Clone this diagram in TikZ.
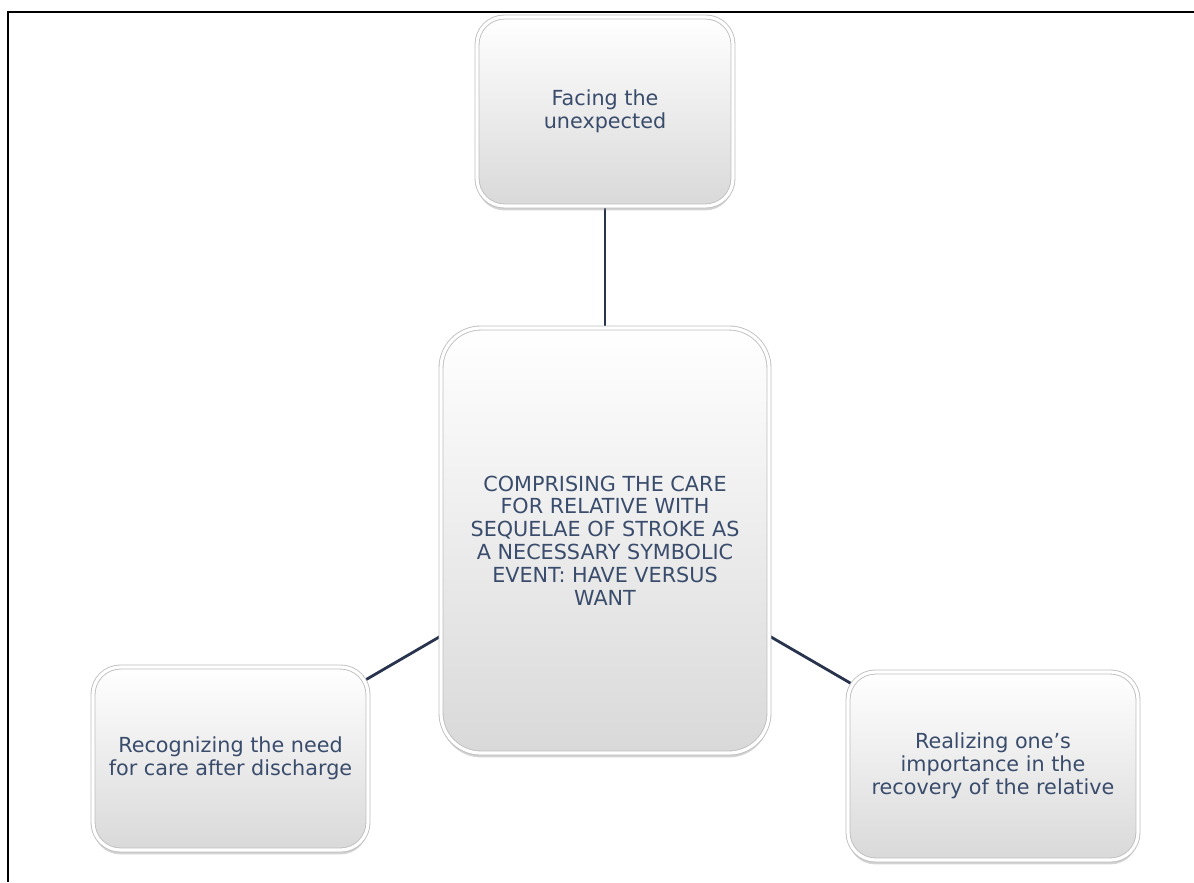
\documentclass[tikz,border=0pt]{standalone}
\usepackage{fontspec}
\setmainfont{DejaVu Sans}
\usepackage{tikz}
\usetikzlibrary{shadows,backgrounds}
\definecolor{txtblue}{RGB}{58,76,108}
\definecolor{linknavy}{RGB}{40,52,78}
\tikzset{
  box/.style ={rectangle,rounded corners=0.55cm,draw=gray!50,line width=0.5pt,
               double=white,double distance=1.8pt,
               top color=white,middle color=white,bottom color=gray!30,
               drop shadow={opacity=0.35,shadow xshift=0pt,shadow yshift=-2.5pt},
               align=center,inner sep=0pt,text=txtblue,
               font=\fontsize{11.8}{13}\selectfont},
  hub/.style ={box,rounded corners=0.8cm},
  link/.style={linknavy,line width=1.6pt},
  frame/.style={black,line width=1.6pt},
}
\begin{document}
\begin{tikzpicture}
  \useasboundingbox (0,0) rectangle (23.88,-17.64);
  \draw[frame] (0.16,-17.64) -- (0.16,-0.24) -- (23.88,-0.24);
  % centre theme and its three categories
  \node[hub,minimum width=6.56cm,minimum height=8.5cm] (care) at (12.1,-10.81)
    {COMPRISING THE CARE\\FOR RELATIVE WITH\\SEQUELAE OF STROKE AS\\A NECESSARY SYMBOLIC\\EVENT: HAVE VERSUS\\WANT};
  \node[box,minimum width=5.12cm,minimum height=3.78cm] (facing) at (12.1,-2.23)
    {Facing the\\unexpected};
  \node[box,minimum width=5.5cm,minimum height=3.66cm] (need) at (4.61,-15.17)
    {Recognizing the need\\for care after discharge};
  \node[box,minimum width=5.8cm,minimum height=3.76cm] (role) at (19.86,-15.32)
    {Realizing one's\\importance in the\\recovery of the relative};
  \begin{scope}[on background layer]
    \draw[link] (facing.center) -- (care.center);
    \draw[link] (need.center) -- (care.center);
    \draw[link] (role.center) -- (care.center);
  \end{scope}
\end{tikzpicture}
\end{document}
